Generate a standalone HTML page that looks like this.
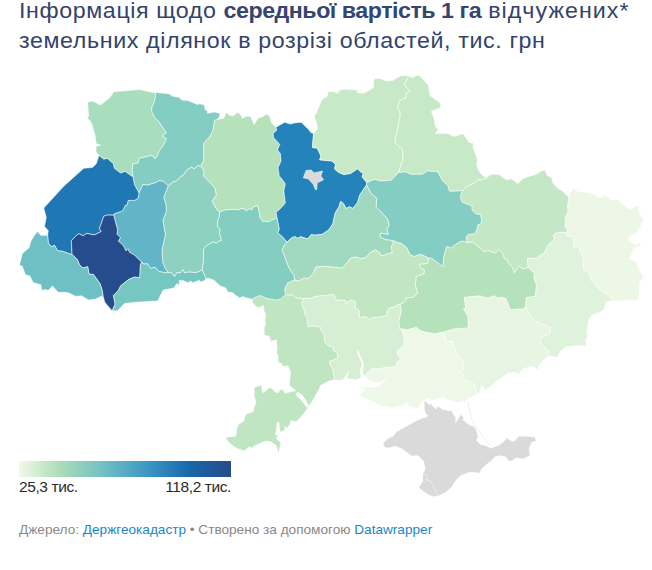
<!DOCTYPE html>
<html><head><meta charset="utf-8">
<style>
html,body{margin:0;padding:0;background:#fff;}
body{width:652px;height:570px;overflow:hidden;position:relative;font-family:"Liberation Sans",sans-serif;}
.t{position:absolute;left:18.8px;white-space:nowrap;color:#33436a;font-size:21.5px;line-height:23px;letter-spacing:0.57px;transform:scaleX(1.08);transform-origin:0 0;}
.t b{font-weight:bold;letter-spacing:-0.45px;color:#34466f;}
.t i{font-style:normal;letter-spacing:0.97px;}
.lg{position:absolute;white-space:nowrap;color:#2a2a2a;font-size:15.5px;line-height:15px;letter-spacing:-0.4px;}
.ft{position:absolute;left:19px;top:522.5px;white-space:nowrap;color:#888;font-size:13.62px;line-height:14px;}
.ft a{color:#1b87c9;text-decoration:none;}
svg{position:absolute;left:0;top:0;}
</style></head><body>
<div class="t" style="top:0px">Інформація щодо <b>середньої вартість 1 га</b> <i>відчужених*</i></div>
<div class="t" style="top:30px">земельних ділянок в розрізі областей, тис. грн</div>
<div style="position:absolute;left:19px;top:461px;width:212px;height:16px;background:linear-gradient(90deg,#f0f9e8 0%,#aadcb6 20%,#70bfc4 40%,#3f98c4 60%,#1868ab 80%,#264b8a 100%)"></div>
<div class="lg" style="left:19px;top:479px">25,3 тис.</div>
<div class="lg" style="left:0;width:231px;text-align:right;top:479px">118,2 тис.</div>
<div class="ft">Джерело: <a>Держгеокадастр</a> • Створено за допомогою <a>Datawrapper</a></div>
<svg width="652" height="570" viewBox="0 0 652 570">
<g stroke="#ffffff" stroke-opacity="0.55" stroke-width="1" stroke-linejoin="round">
<path fill="#a8ddbd" d="M99,155.5 96,152 96,146.5 100.5,145 96.25,143.75 95,135 91.25,122.5 87,117.5 88.75,116.25 87.5,102 93,101.25 100.5,105 110,97.5 113.75,91.75 140,89.5 150,92 155.1,92.4 155.7,95.6 154.4,101.9 151.9,107 151.9,112 155.1,118.3 158.8,121.5 166.4,132.9 162,136 166.4,138.6 163.3,145.5 159.5,150.6 157,156.3 155.1,158.8 152.1,155.3 139,158.4 138.3,163 132.9,163.8 132.1,170.7 133,176.5 131.4,176 125.2,171.4 120.6,173 114.5,168.4 113,163 110.7,161.5 107.6,158.4 103.8,159.2 99,155.5Z"/>
<path fill="#84cdc3" d="M155.1,92.4 169,93.7 172.8,96.2 179.7,97.5 181.6,100 187.9,100.6 197.4,104.4 199.9,103.8 204.4,105.1 205,109.5 207.5,110.8 207.5,113.3 214.5,112 220.4,113.5 219.2,117.2 217.4,119.4 214.9,120.2 213.5,126 213,131 209.4,137.3 205.6,141.1 203.7,143.6 203.9,160.5 201.4,164.3 201.4,166.8 198,165.5 194.2,168.9 191.6,167.2 187,169.8 182.8,176.1 181.1,176.1 176,181.6 173.5,181.6 168.2,186 163.6,181.4 159,180.6 156.7,182.2 147.5,185.2 142.9,184.5 139,193 134.4,184.5 133,176.5 132.1,170.7 132.9,163.8 138.3,163 139,158.4 152.1,155.3 155.1,158.8 157,156.3 159.5,150.6 163.3,145.5 166.4,138.6 162,136 166.4,132.9 158.8,121.5 155.1,118.3 151.9,112 151.9,107 154.4,101.9 155.7,95.6 155.1,92.4Z"/>
<path fill="#b5e1bb" d="M217.4,119.4 223.5,118.4 226.6,112.3 229.6,115.3 233.3,116 237.6,112.3 240.1,114.1 242.5,118.4 246.8,116 250.5,116.6 254.2,124.5 257.9,118.4 264,116 266.4,114.1 269.5,116 271.3,122.7 276.1,127.2 276.7,130.3 273.1,133.4 273.7,137.7 279.8,144.4 277.4,149.9 280.4,153.6 281,161 278,167.8 279.2,175.7 284.1,181.9 285.3,184 283.8,190.7 285.3,203 280,209.1 276.1,212.2 276.9,217.5 274.8,219.1 271.1,220.2 269.5,221.8 262.5,221.2 259.8,217.5 259.3,213.2 257.6,205.7 253.9,206.7 251.7,210 248.5,208.9 246.4,211 244.2,208.9 241,208.4 238.9,210 233.5,209.4 224.9,210 219.5,212.1 216.3,208.9 212,201.4 216.25,195 214.9,187.9 208.9,181.6 203.5,176.1 203.9,171 201.4,166.8 201.4,164.3 203.9,160.5 203.7,143.6 205.6,141.1 209.4,137.3 213,131 213.5,126 214.9,120.2 217.4,119.4Z"/>
<path fill="#2483ba" d="M276.1,127.2 284.7,122.3 290.3,124.1 294.6,122.9 301.3,122.3 308.1,129.1 311.1,132.7 313.6,133.4 312.4,147.5 317.3,148.1 321,156.1 319.7,159.8 332,161 335.7,164.7 334.5,168.8 338,172 343.7,174.5 350.6,173.4 357.5,168.8 360.4,171.6 363.3,173.4 362.1,176.8 366.8,182.5 366.5,185 363.6,189.2 359.7,195.3 357.4,203 352.8,208.4 349.8,206.8 345.9,208.4 343.6,203.8 340.6,201.5 339,206.8 335.2,213 332.9,223.7 329,229.8 322.1,234.4 314.5,235.2 311.4,234.4 307.6,239 300.7,236.7 297.6,238.3 295.3,236.7 292.2,237.5 286.9,242.1 282.3,236.7 277.7,232.9 279.2,229.1 276.9,217.5 276.1,212.2 280,209.1 285.3,203 283.8,190.7 285.3,184 284.1,181.9 279.2,175.7 278,167.8 281,161 280.4,153.6 277.4,149.9 279.8,144.4 273.7,137.7 273.1,133.4 276.7,130.3 276.1,127.2Z"/>
<path fill="#c8e9c8" d="M313.6,133.4 317.4,129 316.8,124.1 314.3,116.7 316.8,111.8 321.7,100.1 327.8,95.8 327.8,91.5 334,91.5 337.6,93.3 339.5,90.3 345,89 349.9,89.7 356.7,89.7 357.9,92.7 364.1,93.3 373.9,87.2 373.3,82.9 374.5,78.6 380,78.6 386.2,81.1 392.7,80.5 400.4,75.7 409.1,75.7 404.3,84.4 410.1,91.2 406.2,93.1 406.2,97.9 400.4,99.9 397.5,106.6 400.4,114.3 399.5,119.2 396.6,133.6 394.7,142.3 402.4,149.1 403.3,160.7 401.4,162.6 398.8,172.6 391.2,180.2 381.1,181.1 374.3,179.4 366.8,182.5 362.1,176.8 363.3,173.4 360.4,171.6 357.5,168.8 350.6,173.4 343.7,174.5 338,172 334.5,168.8 335.7,164.7 332,161 319.7,159.8 321,156.1 317.3,148.1 312.4,147.5 313.6,133.4Z"/>
<path fill="#c8e9c8" d="M409.1,75.7 412,77.7 416.9,75.3 419.7,75.7 428.4,85.4 430.4,96 440,102.7 441,107.6 431.3,111.4 434.2,118.2 435.2,125.9 438.1,129.8 435.2,133.6 441,133.3 448.7,133.7 453.5,136.6 463.2,133.7 469,142.4 473.8,143.3 472.8,146.2 475.7,154.9 477.6,159.7 476.7,165.5 478.6,170.4 481.5,174.2 486.3,178.1 480.5,180 477.6,180 474.7,182.9 470.9,184.8 467,186.8 462.2,190.6 455.3,191.2 449.4,191.2 447.7,185.3 442.6,181.1 437.6,171.8 427.5,171 422.4,174.3 410.6,174.3 405.5,171.8 398.8,172.6 401.4,162.6 403.3,160.7 402.4,149.1 394.7,142.3 396.6,133.6 399.5,119.2 400.4,114.3 397.5,106.6 400.4,99.9 406.2,97.9 406.2,93.1 410.1,91.2 404.3,84.4 409.1,75.7Z"/>
<path fill="#c4e7c6" d="M486.3,178.1 491.2,174.2 499,174.5 506.5,180 511.5,178.75 517.75,183.75 522.75,178.75 530,176.1 536.1,174.6 541.5,170.7 545.3,170.7 546.9,175.3 551.5,177.6 553,183 556.8,187.6 563,191.4 568.3,196.8 569.1,196.8 567.6,206 568.3,210.6 565.3,218.3 565.3,227.5 567.6,229.3 566.5,233 565.4,232.5 555.7,233 553.1,236.3 555.2,237.9 552,241.1 547.7,245.9 546.1,249.7 543.9,254 540.7,254.5 537,258.3 530,258.3 527.5,258.6 528.2,267.6 523.4,269 519.2,266.2 514.4,273.1 512.3,266.9 508.2,263.4 508.2,261.4 504,257.9 503.3,254.5 499.2,249.6 495.7,253.1 488.1,250.3 484,251.7 479.9,248.2 473,242 466.7,242.7 466,237.2 468.1,234.4 475,233.7 477.1,228.9 477.8,224.8 481.2,223.4 481.5,220.6 480.5,214.8 475.7,213.8 471.9,210 471.9,206.1 462.2,202.2 460.3,197.4 462.2,190.6 467,186.8 470.9,184.8 474.7,182.9 477.6,180 480.5,180 486.3,178.1Z"/>
<path fill="#edf7e6" d="M569.1,196.8 569.1,194.5 573.7,188.4 576,190.7 582.1,192.2 588.3,192.2 594.4,194.5 600.6,198.3 605.2,195 611.2,200.1 617.3,199.1 621.3,203.1 629.4,209.2 639.5,205.1 638.5,210.2 643.5,220.3 638.5,230.4 635.4,233.4 629.4,236.4 628.4,240.4 635.4,244.5 640.5,243.5 641.5,245.5 633.4,248.5 629.4,259.6 635.4,260.6 640.5,271.7 643.5,276.8 639.5,282.8 639.5,289.9 638.5,300 614.3,301 609.2,295.9 604.2,292.9 597.1,286.9 592.1,281.8 589,274.7 588,272.8 583.7,270.1 582.6,261.5 582.6,256.1 580,251.8 578.9,247 571.9,247 574,244.9 573,236.8 567,235.7 566.5,233 567.6,229.3 565.3,227.5 565.3,218.3 568.3,210.6 567.6,206 569.1,196.8Z"/>
<path fill="#dff2dc" d="M566.5,233 567,235.7 573,236.8 574,244.9 571.9,247 578.9,247 580,251.8 582.6,256.1 582.6,261.5 583.7,270.1 588,272.8 589,274.7 592.1,281.8 597.1,286.9 604.2,292.9 609.2,295.9 614.3,301 612,300.7 605.9,302.3 603.6,309.9 599.8,312.2 592.1,315.3 589,319.1 587.5,326 586.7,332.9 588.3,336 586,338.3 586,346.7 582.9,345.2 573.7,346 566,346.7 560.6,351.3 556.8,357.5 550.7,356 546.8,357.5 549.1,351.3 543.8,346.7 539.9,342.1 541.5,336.8 549.9,333.7 550.7,327.6 546.8,326 540.7,323.7 535.3,321.4 529.2,314.5 525.5,306 526.1,297.7 535.3,296.1 535.25,295 536.5,285 534,278.75 534.4,273.8 531,270.3 528.2,267.6 527.5,258.6 530,258.3 537,258.3 540.7,254.5 543.9,254 546.1,249.7 547.7,245.9 552,241.1 555.2,237.9 553.1,236.3 555.7,233 565.4,232.5 566.5,233Z"/>
<path fill="#e7f5e2" d="M525.5,306 529.2,314.5 535.3,321.4 540.7,323.7 546.8,326 550.7,327.6 549.9,333.7 541.5,336.8 539.9,342.1 543.8,346.7 549.1,351.3 546.8,357.5 540,363.6 537.75,370 532.75,366.25 522.75,368.75 519,375 515.1,372.2 507.4,373.7 496.7,381.4 487.5,389.1 484.4,390.6 483.7,386.8 481.3,385.2 480.6,390.6 476.7,395 476,390.6 474.4,384.5 469.1,381.4 464.5,380.6 462.9,375.3 459.9,372.2 463.7,369.9 462.2,359.2 456.8,355.3 452.2,341.5 446.5,341.7 444.2,334.8 441.1,332.5 454.9,328.7 468,327.9 468,317.2 465.7,312.6 463.4,308.8 465.7,308 464.1,297.3 471.8,296.5 479.5,295.7 487.9,298 494,295.7 497.9,298 502.5,297.3 506.3,298.8 510.2,309.5 524,308.8 525.5,306Z"/>
<path fill="#b5e2bb" d="M466.7,242.7 473,242 479.9,248.2 484,251.7 488.1,250.3 495.7,253.1 499.2,249.6 503.3,254.5 504,257.9 508.2,261.4 508.2,263.4 512.3,266.9 514.4,273.1 519.2,266.2 523.4,269 528.2,267.6 531,270.3 534.4,273.8 534,278.75 536.5,285 535.25,295 535.3,296.1 526.1,297.7 525.5,306 524,308.8 510.2,309.5 506.3,298.8 502.5,297.3 497.9,298 494,295.7 487.9,298 479.5,295.7 471.8,296.5 464.1,297.3 465.7,308 463.4,308.8 465.7,312.6 468,317.2 468,327.9 454.9,328.7 441.1,332.5 435,334.1 421.25,331.25 416.25,327.5 406.25,330 401.5,329 399.3,328.6 398.7,321.8 401.2,310.8 399.9,304.6 405.3,301 406.1,297.9 413,297.1 417.6,293.3 415.3,285.6 416.1,276.4 423.7,274.1 424.5,270.3 419.9,267.2 419.1,264.1 427.6,263.4 428.3,258 431.4,258 442.9,266.4 443.7,256.5 446.7,246.5 451.3,248 455,244.8 460.5,241.3 464,241.3 466.7,242.7Z"/>
<path fill="#84cdc3" d="M366.8,182.5 374.3,179.4 381.1,181.1 391.2,180.2 398.8,172.6 405.5,171.8 410.6,174.3 422.4,174.3 427.5,171 437.6,171.8 442.6,181.1 447.7,185.3 449.4,191.2 455.3,191.2 462.2,190.6 460.3,197.4 462.2,202.2 471.9,206.1 471.9,210 475.7,213.8 480.5,214.8 481.5,220.6 481.2,223.4 477.8,224.8 477.1,228.9 475,233.7 468.1,234.4 466,237.2 466.7,242.7 464,241.3 460.5,241.3 455,244.8 451.3,248 446.7,246.5 443.7,256.5 442.9,266.4 431.4,258 428.3,258 420.7,254.2 414.5,256.5 409.9,254.9 406.9,248 401.5,243.4 397.7,242.7 392.9,240.6 386,239.8 379.9,236.7 380.6,232.9 388.3,234.4 386.8,229.8 389.1,225.2 387.5,219.1 382.2,213 376,206.8 376.8,198.4 370.7,193 366.5,185 366.8,182.5Z"/>
<path fill="#a0d9bf" d="M286.9,242.1 292.2,237.5 295.3,236.7 297.6,238.3 300.7,236.7 307.6,239 311.4,234.4 314.5,235.2 322.1,234.4 329,229.8 332.9,223.7 335.2,213 339,206.8 340.6,201.5 343.6,203.8 345.9,208.4 349.8,206.8 352.8,208.4 357.4,203 359.7,195.3 363.6,189.2 366.5,185 370.7,193 376.8,198.4 376,206.8 382.2,213 387.5,219.1 389.1,225.2 386.8,229.8 388.3,234.4 380.6,232.9 379.9,236.7 386,239.8 392.9,240.6 393.5,243 391.4,246 392.3,252.5 381.2,256.2 380.3,253.4 375.7,249.7 370.2,252.5 366.5,257.1 361,258.9 356.4,257.1 350.9,258 342.6,268.1 333.4,267.2 324.2,266.3 315.9,267.2 313.1,273.7 308.5,278.3 303.9,278.3 298.4,281 294.5,280 293.8,274.6 291,271.8 287.4,264.4 284.6,256.2 281.8,250.6 283.7,246 286.9,242.1Z"/>
<path fill="#c2e6c2" d="M294.5,280 298.4,281 303.9,278.3 308.5,278.3 313.1,273.7 315.9,267.2 324.2,266.3 333.4,267.2 342.6,268.1 350.9,258 356.4,257.1 361,258.9 366.5,257.1 370.2,252.5 375.7,249.7 380.3,253.4 381.2,256.2 392.3,252.5 391.4,246 393.5,243 392.9,240.6 397.7,242.7 401.5,243.4 406.9,248 409.9,254.9 414.5,256.5 420.7,254.2 428.3,258 427.6,263.4 419.1,264.1 419.9,267.2 424.5,270.3 423.7,274.1 416.1,276.4 415.3,285.6 417.6,293.3 413,297.1 406.1,297.9 405.3,301 399.9,304.6 398.1,304 395,307.1 390.1,307.7 387.1,310.8 387.1,315.7 377.9,317.5 372.3,317.5 369.3,320 366.2,316.9 359.4,317.5 358.8,310.2 355.2,308.3 355.2,301.6 350.2,300.3 346,303.4 345.3,300.3 336.7,300.3 333.7,294.8 330,294.8 327.8,295.4 318.6,296.1 314,296.9 311,298.4 306.3,298.4 303.5,298.6 301,298.4 295.6,297.7 294.8,296.9 291.8,293.8 290.2,295.4 285.6,294.6 284.6,289.3 287.4,282.9 294.5,280Z"/>
<path fill="#d6eed4" d="M303.5,298.6 306.3,298.4 311,298.4 314,296.9 318.6,296.1 327.8,295.4 330,294.8 333.7,294.8 336.7,300.3 345.3,300.3 346,303.4 350.2,300.3 355.2,301.6 355.2,308.3 358.8,310.2 359.4,317.5 366.2,316.9 369.3,320 372.3,317.5 377.9,317.5 387.1,315.7 387.1,310.8 390.1,307.7 395,307.1 398.1,304 399.9,304.6 401.2,310.8 398.7,321.8 399.3,328.6 401.5,329 403.75,335 404.4,340 403.6,346.9 399.8,348.4 396.7,352.3 400.5,358.4 398.2,360.7 395.2,366.8 386,367.6 376.7,369.1 372.1,368.4 367.5,373 365.2,376.8 362.2,372.2 363.7,363.8 359.9,355.3 357.6,350 358.3,355.3 362.2,363 359.9,372.2 361.4,377.6 356.8,379.9 350.7,379.1 346.8,378.3 349.1,370.7 343.8,379.1 339.9,380.6 333.8,379.9 334,377 333.2,372.8 332.4,368.2 330.1,365.2 329.4,361.3 334,359.8 337.8,357.5 337,352.1 333.2,350.6 333.2,346.7 328.6,346 324.8,342.1 324,336 323.2,332.9 320.9,330.6 320.2,326.8 314,326 307.9,326.8 307.1,317.6 304.8,315.3 304.8,311.5 302.5,306.9 301.7,303 303.5,298.6Z"/>
<path fill="#eef8e8" d="M401.5,329 406.25,330 416.25,327.5 421.25,331.25 435,334.1 441.1,332.5 444.2,334.8 446.5,341.7 452.2,341.5 456.8,355.3 462.2,359.2 463.7,369.9 459.9,372.2 462.9,375.3 464.5,380.6 469.1,381.4 474.4,384.5 476,390.6 476.7,395 472.1,396.7 468.3,398.3 464.5,402.1 460.6,401.3 457.6,402.9 453.7,401.3 447.6,399.8 443.8,397.5 437.6,399 432.3,400.6 428.4,398.3 423.8,400.6 420,404.4 418.2,409 409,406 407.4,402.9 401.3,406 392.1,407.5 381.3,406 373.7,402.1 366,398.3 358.3,395.2 364.5,390.6 358.3,386 366,387.5 372.1,386.8 378.3,386.8 386,379.1 379.8,382.9 370.6,381.4 365.2,376.8 367.5,373 372.1,368.4 376.7,369.1 386,367.6 395.2,366.8 398.2,360.7 400.5,358.4 396.7,352.3 399.8,348.4 403.6,346.9 404.4,340 403.75,335 401.5,329Z"/>
<path fill="#c0e5c1" d="M251.9,299.2 255.7,296.9 260.3,295.4 263.4,296.9 267.2,298.4 271.8,299.2 275.7,300 280.3,299.2 284.1,296 285.6,294.6 290.2,295.4 291.8,293.8 294.8,296.9 295.6,297.7 301,298.4 303.5,298.6 301.7,303 302.5,306.9 304.8,311.5 304.8,315.3 307.1,317.6 307.9,326.8 314,326 320.2,326.8 320.9,330.6 323.2,332.9 324,336 324.8,342.1 328.6,346 333.2,346.7 333.2,350.6 337,352.1 337.8,357.5 334,359.8 329.4,361.3 330.1,365.2 332.4,368.2 333.2,372.8 334,377 333.8,379.9 328.8,381 320.5,385.6 318.6,390.2 312.2,401.3 305,412 300.6,417.3 296.2,421.7 291,420.8 290.1,424.3 286.6,428.2 284.4,426.5 285.2,429.1 282.2,431.8 280,431.8 278.7,422.1 277.4,422.1 275.6,434.8 278.2,435.3 276.5,438.8 280.9,442.7 278.7,453.2 276,445.4 270.8,441.8 265.5,441 262,442.7 255.1,445.5 251.4,448.2 249.6,446.4 244.1,451 236.7,448.2 231.2,444.5 227.5,440.9 225.7,437.2 235.8,436.3 236.7,428.9 238.6,424.3 243.2,421.5 245.9,414.2 253.3,411.4 254.2,406.8 256.1,403.1 254.2,395.8 254.2,387.5 261.6,384.7 262.5,393 270,387.2 272.6,389 275.3,392 278.3,392.9 279.6,389.8 282.7,389.4 285.4,393.3 287.5,392.5 295.9,390.7 289.3,385.4 289.7,381 290.6,372.3 288,365.7 283.2,366.6 281.4,363.5 278.8,362.6 278,360.6 278,354.4 276.4,353.7 277.2,348.3 276.4,339.8 271.1,341.4 268.8,336 264.2,335.2 264.2,327.6 265.7,324.5 264.9,319.9 265.7,313.8 264.2,311.5 263.4,305.3 259.6,307.6 256.5,306.9 252.7,303 251.9,299.2Z"/>
<path fill="#83cdc1" d="M219.5,212.1 224.9,210 233.5,209.4 238.9,210 241,208.4 244.2,208.9 246.4,211 248.5,208.9 251.7,210 253.9,206.7 257.6,205.7 259.3,213.2 259.8,217.5 262.5,221.2 269.5,221.8 271.1,220.2 274.8,219.1 276.9,217.5 279.2,229.1 277.7,232.9 282.3,236.7 286.9,242.1 283.7,246 281.8,250.6 284.6,256.2 287.4,264.4 291,271.8 293.8,274.6 294.5,280 287.4,282.9 284.6,289.3 285.6,294.6 284.1,296 280.3,299.2 275.7,300 271.8,299.2 267.2,298.4 263.4,296.9 260.3,295.4 255.7,296.9 251.9,299.2 246.7,298 242.8,296.5 239.8,298 235.2,295 232.9,292.7 227.5,291.9 226,288.1 219.8,285.8 214.4,280.4 210.6,278.9 207.5,278.1 206,278.9 204,274 202.2,269.7 202.3,268.8 203.5,259 203.5,249.2 206.6,245.5 209,244.3 212.7,241.8 216.4,243 218.8,241.2 221.3,240.6 219.4,233.2 220.1,228.9 217.6,227.1 217.6,221 219.4,216 219.5,212.1Z"/>
<path fill="#8fd1c0" d="M168.2,186 173.5,181.6 176,181.6 181.1,176.1 182.8,176.1 187,169.8 191.6,167.2 194.2,168.9 198,165.5 201.4,166.8 203.9,171 203.5,176.1 208.9,181.6 214.9,187.9 216.25,195 212,201.4 216.3,208.9 219.5,212.1 219.4,216 217.6,221 217.6,227.1 220.1,228.9 219.4,233.2 221.3,240.6 218.8,241.2 216.4,243 212.7,241.8 209,244.3 206.6,245.5 203.5,249.2 203.5,259 202.3,268.8 202.2,269.7 199.9,271.2 196,272.7 189.1,272 184.5,272.7 183,269.7 180.7,272.7 176.9,272.7 174.6,276.6 171.5,272.7 168,272.6 165,268 162.8,262.5 161.9,250.2 165.4,234.4 162.8,220.4 166.3,211.6 166,205 163.7,197.5 165.1,193.7 168.2,186Z"/>
<path fill="#62b5c6" d="M139,193 142.9,184.5 147.5,185.2 156.7,182.2 159,180.6 163.6,181.4 168.2,186 165.1,193.7 163.7,197.5 166,205 166.3,211.6 162.8,220.4 165.4,234.4 161.9,250.2 162.8,262.5 165,268 168,272.6 166.2,272.8 158.8,271.6 155.1,267.3 150.8,268.5 147.1,263.6 144.1,264.2 141.5,262 140.8,261.4 134.5,255.1 129.5,252.3 128.1,248.8 126,250.9 123.2,245.3 118.3,241.1 120.4,237.6 116.9,234.1 117.6,229.9 115.5,222.2 113.7,215.2 114.1,213.8 122.5,210.9 125.3,205.3 127.4,204.6 128.1,200.4 134.5,200.4 138,198.3 139,193Z"/>
<path fill="#1f78b4" d="M47.6,235.3 48.3,230.7 44.5,226.5 46.25,217.5 43.75,208 63.75,186.25 76.25,175 83.75,168.25 92.5,167.5 96.25,163.75 99,155.5 103.8,159.2 107.6,158.4 110.7,161.5 113,163 114.5,168.4 120.6,173 125.2,171.4 131.4,176 133,176.5 134.4,184.5 139,193 138,198.3 134.5,200.4 128.1,200.4 127.4,204.6 125.3,205.3 122.5,210.9 114.1,213.8 113.7,215.2 107.5,215 103.75,216.25 100.5,225.5 99.4,228.5 101.3,231.5 94.5,234.9 86.6,233.4 83.2,235.8 79.2,233.7 76.7,235.2 71.3,240.7 72.1,254.5 69,253.7 62.9,251.4 57.5,250.7 54.5,245.3 51.4,246.8 48.3,243 47.6,235.3Z"/>
<path fill="#254d8d" d="M72.1,254.5 71.3,240.7 76.7,235.2 79.2,233.7 83.2,235.8 86.6,233.4 94.5,234.9 101.3,231.5 99.4,228.5 100.5,225.5 103.75,216.25 107.5,215 113.7,215.2 115.5,222.2 117.6,229.9 116.9,234.1 120.4,237.6 118.3,241.1 123.2,245.3 126,250.9 128.1,248.8 129.5,252.3 134.5,255.1 140.8,261.4 141.5,262 140.4,265.4 139.8,277.7 134.3,277.1 128.7,279.5 120.8,285.7 118.3,290.6 113.4,295.5 115.2,304.1 112.2,310.8 107.3,305.3 104.8,302.2 103,296 102.3,290.9 100.2,284 93.3,274.3 89.1,274.3 87.7,266.7 82.9,268.1 79.5,264.7 77.4,259.8 72.1,254.5Z"/>
<path fill="#6ec0c4" d="M47.6,235.3 48.3,243 51.4,246.8 54.5,245.3 57.5,250.7 62.9,251.4 69,253.7 72.1,254.5 77.4,259.8 79.5,264.7 82.9,268.1 87.7,266.7 89.1,274.3 93.3,274.3 100.2,284 102.3,290.9 103,296 100.9,296.4 95.3,299.2 88.4,299.9 81.5,295.7 76,296.4 69.1,293 65,292.3 58.1,292.3 52.5,286.1 48.4,290.2 44.2,289.5 42.2,290.9 40.8,284.7 33.2,282.6 29.7,275.7 25.6,275 22.1,266 19.4,265.4 20.7,259.9 22.3,253.7 29.2,247.6 30.7,241.5 34.5,235.3 37.6,231.5 40.7,235.3 47.6,235.3Z"/>
<path fill="#76c7c1" d="M141.5,262 144.1,264.2 147.1,263.6 150.8,268.5 155.1,267.3 158.8,271.6 166.2,272.8 168,272.6 171.5,272.7 174.6,276.6 176.9,272.7 180.7,272.7 183,269.7 184.5,272.7 189.1,272 196,272.7 199.9,271.2 202.2,269.7 204,274 206,278.9 204.5,280.4 201.4,281.9 199.1,280.4 193,282.7 190.7,281.2 187.6,282.7 183,280.4 179.2,280.4 179.2,285.8 176.9,283.5 173.8,288.1 163.1,290 157.6,301 146.5,301.6 135.5,302.2 124.4,303.5 117.7,310.8 112.2,310.8 115.2,304.1 113.4,295.5 118.3,290.6 120.8,285.7 128.7,279.5 134.3,277.1 139.8,277.7 140.4,265.4 141.5,262Z"/>
<path fill="#dadada" d="M424,400.5 427.2,402.4 430,405.1 430.9,403.3 433.2,406.5 436.4,409.3 436.9,406 441,407.9 442.4,409.7 445.6,409.7 449.7,411.1 451.1,409.7 453,413.4 455.7,417.1 455.7,422.6 458.5,418 461.2,413.9 462.2,416.2 464,417.1 463.1,419.8 466.3,422.6 470.4,425.4 474.1,426.3 476.5,430.4 478.2,437.3 476.5,440.1 480,444.2 484.6,445.3 491.5,448.2 499.5,444.7 504.1,441.3 507,437.3 508.7,439.6 512.2,441.3 515.1,440.7 518.5,436.1 534.6,436.7 536.3,440.7 531.7,442.4 529.4,447.6 529.4,453.4 530.6,455.1 523.7,459.1 515.6,458 512.2,460.9 508.7,460.9 505.3,456.8 499.5,455.7 494.9,456.8 492,460.3 486.9,464.3 482.3,468.3 481.1,470 480.1,473.1 470,472.2 460.7,475.6 455.6,480.7 451.4,487.4 445.5,492.5 438.7,495.9 433.7,496.7 428.6,495 423.6,491.6 418.5,487.4 422.7,481.5 422.7,473.9 425.2,468.9 423.6,461.3 417.6,455.4 411.7,456.2 403.3,449.5 394.9,446.1 389.8,447.8 385.6,447.8 383.1,445.2 383.9,441.9 388.1,438.5 393.2,436 396.6,431.7 408.4,425 418,419.8 422.6,418 426.7,417.1 428.1,415.2 425.8,414.3 424.4,410.2Z"/>
<path fill="#dadada" d="M303.3,177.8 306.1,170.4 311.3,170.1 314,172.9 322.6,171.1 320.8,176 323.6,179.7 317.1,183 316.8,189.5 315.3,189.5 313.4,184.6 308.5,179Z"/>
<path fill="#ffffff" stroke="none" d="M295.9,393.3 298.1,392 301.6,394.2 305.5,399.5 308.6,405.2 306.8,407.8 303.3,403 298.9,397.7 296.3,396Z"/>
<polyline fill="none" stroke="#ffffff" stroke-width="0.8" points="422.7,473.9 427.8,475.6 426.1,479.8 431.1,480.7 432,484.1 435.4,489.1 437.9,495.5"/>
<polyline fill="none" stroke="#e6eee2" stroke-width="1.3" points="467.8,401 469.5,410 471.9,420 477.7,429.2 483.4,437.3 488,443 492.6,447.6"/>
</g>
</svg>
</body></html>
